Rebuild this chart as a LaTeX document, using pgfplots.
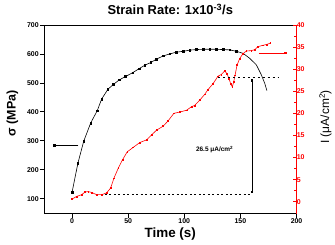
\documentclass[border=0pt]{standalone}
\usepackage{pgfplots}
\pgfplotsset{compat=1.18}
\usepackage{fontspec}
\setmainfont{Liberation Sans}
\usetikzlibrary{arrows.meta}
\begin{document}
\begin{tikzpicture}
\begin{axis}[
  at={(0,0)}, anchor=south west, scale only axis, width=253bp, height=189bp,
  xmin=-25, xmax=200, ymin=48, ymax=700,
  xtick={0,50,100,150,200}, ytick={100,200,...,700},
  xtick pos=left, ytick pos=left,
  tick align=outside, major tick length=4bp,
  /pgf/number format/assume math mode=true,
  tick label style={font=\fontsize{7}{8}\selectfont\bfseries},
  xticklabel style={inner sep=1bp},
  yticklabel style={inner sep=1bp},
  axis line style={line width=0.7pt},
  tick style={line width=0.6pt, black},
  title={Strain Rate: 1x10\textsuperscript{-3}/s},
  title style={at={(axis description cs:0.5,1.05)}, anchor=center, yshift=0pt, font=\fontsize{13}{14}\selectfont\bfseries},
  xlabel={Time (s)},
  xlabel style={at={(axis description cs:0.5,-0.11)}, anchor=center, yshift=0pt, font=\fontsize{13.5}{14}\selectfont\bfseries},
  ylabel={σ (MPa)},
  ylabel style={at={(axis description cs:-0.125,0.532)}, anchor=center, xshift=0pt, font=\fontsize{12.5}{13}\selectfont\bfseries},
  clip=false,
]
\addplot[black, line width=0.6pt, mark=square*, mark size=0.8pt] coordinates {
(0,121) (5.3,223) (10.4,298) (16.6,361) (22.5,404) (26.4,444) (32,478) (36.7,494)
(42,510) (47.7,522) (54,535) (59.8,549) (64.9,561) (70,570) (75.3,582) (81.2,593)
(87.1,600) (93,606) (99,609) (104.9,613) (110.8,615) (116.7,616) (122.7,616)
(128.6,616) (134.5,615) (140.4,614) (146.4,609)
};
\addplot[black, line width=0.6pt] coordinates {
(146.4,609) (152.3,602) (158.2,585) (164.2,562) (168.6,528) (171.6,499) (173.6,473)
};
\addplot[black, line width=0.6pt, -{Square[length=2.5pt,width=2.5pt]}] coordinates {(5.6,283) (-16.5,283)};
\end{axis}
\begin{axis}[
  at={(0,0)}, anchor=south west, scale only axis, width=253bp, height=189bp,
  xmin=-25, xmax=200, ymin=-2.7, ymax=40,
  axis x line=none, axis y line*=right,
  ytick={0,5,...,40}, minor y tick num=1,
  tick align=inside, major tick length=4bp, minor tick length=2.5bp,
  /pgf/number format/assume math mode=true,
  tick label style={font=\fontsize{7}{8}\selectfont\bfseries},
  yticklabel style={red, inner sep=1bp, xshift=-1bp},
  y axis line style={red, line width=0.7pt},
  ytick style={red, line width=0.6pt},
  minor y tick style={red, line width=0.6pt},
  ylabel={I (μA/cm\textsuperscript{2})},
  ylabel style={at={(axis description cs:1.1146,0.513)}, anchor=center, font=\fontsize{12}{13}\selectfont},
  clip=false,
]
\addplot[red, line width=0.6pt, mark=square*, mark size=0.4pt] coordinates {
(0,0.6) (4.1,1.2) (8.6,1.6) (11.6,2.2) (14.5,2.3) (17.5,2.1) (21.9,1.6) (26.4,1.6)
(30.8,2.0) (34.4,3.1) (37.3,5.3) (41.2,7.6) (45,9.5) (49.2,11.3) (54.5,12.3)
(60.4,13.4) (66.4,14.0) (70.8,15.1) (75.3,16.2) (81.2,17.1) (85.6,18.3) (90.7,20.0)
(96,20.3) (102,20.7) (106.4,21.5) (109.3,21.8) (113.8,23) (118.2,24.3) (121.2,25.4)
(125.6,26.7) (130,28.4) (133,28.8) (136,29.6) (138,29.0) (139.8,27.9) (141.3,26.7)
(142.8,26.0) (144,27.1) (145.2,28.6) (147,30.9) (149.3,32.4) (152.3,33.5) (155.3,34.1)
(159.7,34.2) (162.7,34.4) (165.6,35.1) (170.1,35.4) (173.6,35.6) (176.6,35.9)
};
\addplot[red, line width=0.6pt, -{Square[length=2.5pt,width=2.5pt]}] coordinates {(166.5,33.7) (191,33.7)};
\addplot[black, line width=0.6pt, dash pattern=on 2pt off 2.5pt] coordinates {(29.3,1.7) (160.3,1.7)};
\addplot[black, line width=0.6pt, dash pattern=on 2.5pt off 2.5pt] coordinates {(130,28.1) (184.3,28.1)};
\addplot[black, line width=0.6pt, {Square[length=2.2pt,width=2.2pt]}-{Square[length=2.2pt,width=2.2pt]}, shorten <=1.5pt, shorten >=1.5pt] coordinates {(160.3,1.7) (160.3,28.1)};
\node[font=\fontsize{6.5}{7}\selectfont\bfseries, anchor=center] at (axis cs:127,11.8) {26.5 μA/cm\textsuperscript{2}};
\end{axis}
\path (-44bp,-31bp) rectangle (291bp,214bp);
\end{tikzpicture}
\end{document}
